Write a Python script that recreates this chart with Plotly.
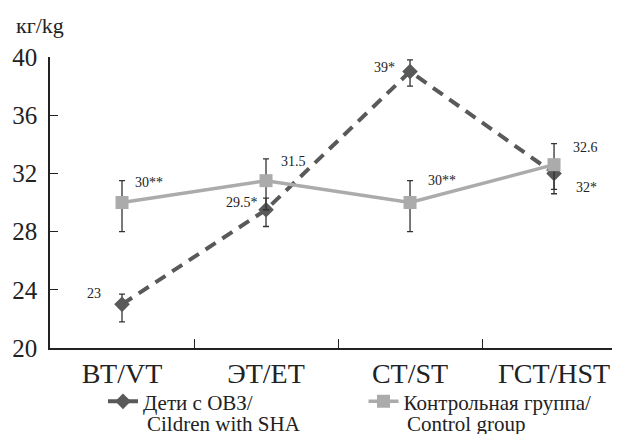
import plotly.graph_objects as go

categories = ["ВТ/VT", "ЭТ/ET", "СТ/ST", "ГСТ/HST"]
sha_values = [23, 29.5, 39, 32]
sha_err_plus = [0.7, 0.8, 0.8, 0.8]
sha_err_minus = [1.2, 1.15, 1.0, 1.1]
sha_labels = ["23", "29.5*", "39*", "32*"]
ctrl_values = [30, 31.5, 30, 32.6]
ctrl_err_plus = [1.5, 1.5, 1.5, 1.45]
ctrl_err_minus = [2.0, 2.0, 2.0, 2.0]
ctrl_labels = ["30**", "31.5", "30**", "32.6"]
y_ticks = [20, 24, 28, 32, 36, 40]
sha_name = ["Дети с ОВЗ/", "Cildren with SHA"]
ctrl_name = ["Контрольная группа/", "Control group"]

FONT = "Liberation Serif"
# page body has an 8px margin, so the figure is 8px smaller than the window
W, H = 612, 426
ML, MR, MT, MB = 42, 0, 49, 86
pw = W - ML - MR

fig = go.Figure()
fig.add_trace(go.Scatter(
    x=categories, y=sha_values, mode="lines+markers",
    name=sha_name[0],
    line=dict(color="#595959", width=4, dash="12px,8px"),
    marker=dict(symbol="diamond", size=12, color="#595959"),
    error_y=dict(type="data", symmetric=False, array=sha_err_plus,
                 arrayminus=sha_err_minus, color="#333333", thickness=1.3, width=3),
    legend="legend",
))
fig.add_trace(go.Scatter(
    x=categories, y=ctrl_values, mode="lines+markers",
    name=ctrl_name[0],
    line=dict(color="#ababab", width=3.5),
    marker=dict(symbol="square", size=13, color="#ababab"),
    error_y=dict(type="data", symmetric=False, array=ctrl_err_plus,
                 arrayminus=ctrl_err_minus, color="#333333", thickness=1.3, width=3),
    legend="legend2",
))

# label offsets (pixels) relative to the marker
sha_off = [(-19, 11, "right"), (-6, 7, "right"), (-13, 4, "right"), (20, -14, "left")]
ctrl_off = [(11, 20, "left"), (13, 19, "left"), (16, 22, "left"), (17, 17, "left")]
for i, c in enumerate(categories):
    dx, dy, anc = sha_off[i]
    fig.add_annotation(x=c, y=sha_values[i], text=sha_labels[i], showarrow=False,
                       xanchor=anc, yanchor="middle", xshift=dx, yshift=dy,
                       font=dict(family=FONT, size=14, color="#222"))
    dx, dy, anc = ctrl_off[i]
    fig.add_annotation(x=c, y=ctrl_values[i], text=ctrl_labels[i], showarrow=False,
                       xanchor=anc, yanchor="middle", xshift=dx, yshift=dy,
                       font=dict(family=FONT, size=14, color="#222"))

fig.add_annotation(xref="paper", yref="paper", x=-36 / pw, y=1, yshift=32,
                   xanchor="left", yanchor="middle", text="кг/kg", showarrow=False,
                   font=dict(family=FONT, size=22, color="#222"))

leg1_x, leg2_x = 0.093, 0.55
text_dx = 41.5 / pw
for lx, second in [(leg1_x, sha_name[1]), (leg2_x, ctrl_name[1])]:
    fig.add_annotation(xref="paper", yref="paper", x=lx + text_dx, y=0, yshift=-76,
                       xanchor="left", yanchor="middle", text=second, showarrow=False,
                       font=dict(family=FONT, size=21, color="#222"))

leg_common = dict(orientation="h", xanchor="left", yref="container", y=0.124,
                  yanchor="top", font=dict(family=FONT, size=21, color="#222"),
                  bgcolor="rgba(0,0,0,0)", itemwidth=30)
fig.update_layout(
    width=W, height=H, margin=dict(l=ML, r=MR, t=MT, b=MB, autoexpand=False),
    paper_bgcolor="white", plot_bgcolor="white", showlegend=True,
    font=dict(family=FONT, color="#222"),
    legend=dict(x=leg1_x, **leg_common),
    legend2=dict(x=leg2_x, **leg_common),
)
fig.update_xaxes(
    type="category", range=[-0.5, 3.458], tickson="boundaries",
    ticks="inside", ticklen=9, tickwidth=1.3, tickcolor="#222",
    showline=True, linecolor="#222", linewidth=1.5, showgrid=False, zeroline=False,
    tickfont=dict(family=FONT, size=28, color="#222"),
)
fig.update_yaxes(
    range=[20, 40], tickvals=y_ticks, ticks="inside", ticklen=8, tickwidth=1.3,
    tickcolor="#222", showline=True, linecolor="#222", linewidth=1.5,
    showgrid=False, zeroline=False, ticklabelstandoff=6,
    tickfont=dict(family=FONT, size=25, color="#222"),
)
fig.write_html("out.html")
